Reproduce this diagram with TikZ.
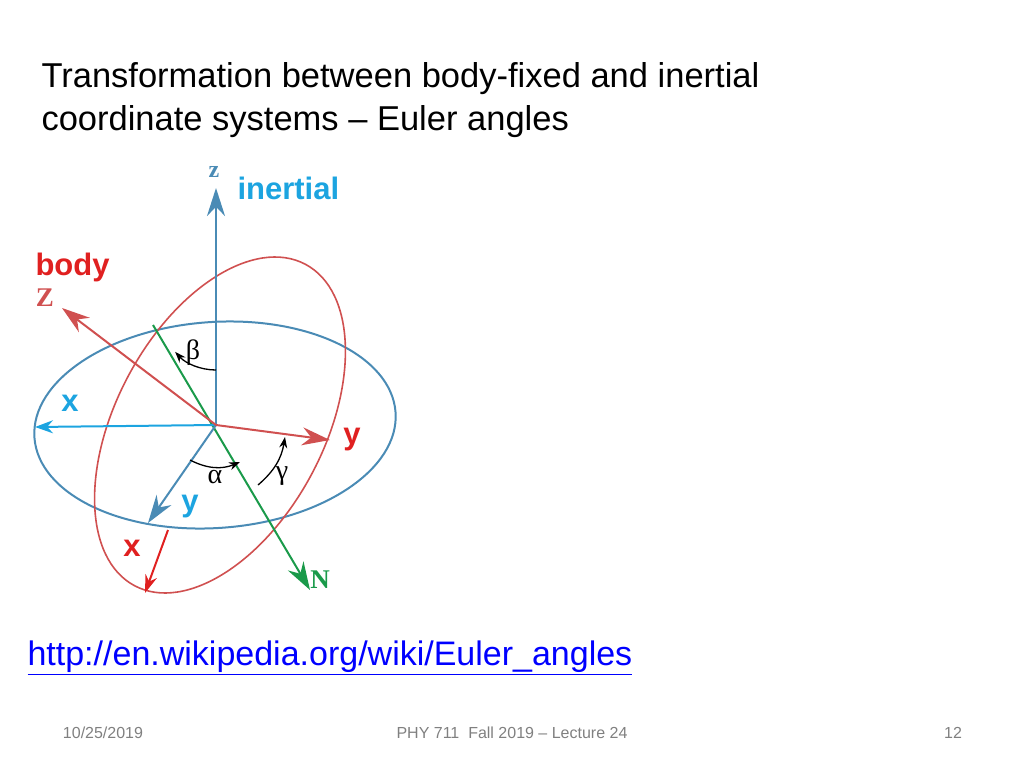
\documentclass[tikz,border=0pt]{standalone}
\usepackage{fontspec}
\setmainfont{Liberation Sans}
\newfontfamily\serifgr{Liberation Serif}
\usetikzlibrary{arrows.meta}
\definecolor{ib}{HTML}{1CA4E0}
\definecolor{eb}{HTML}{4A8BB5}
\definecolor{rr}{HTML}{E02020}
\definecolor{er}{HTML}{D05050}
\definecolor{gg}{HTML}{1A9A4A}
\tikzset{lbl/.style={font=\fontsize{31}{36}\selectfont\bfseries},
 ar/.style={-{Stealth[length=28pt,width=18pt]}, line width=2pt},
 sm/.style={-{Stealth[length=11pt,width=8pt]}, line width=1.3pt},
 gr/.style={font=\serifgr\fontsize{28}{30}\selectfont}}
\begin{document}
\begin{tikzpicture}[x=1pt,y=-1pt]
\useasboundingbox (0,0) rectangle (1024,768);
\node[anchor=west,align=left,font=\fontsize{34.5}{43}\selectfont] (t) at (38,100) {Transformation between body-fixed and inertial\\coordinate systems -- Euler angles};
\coordinate (O) at (216,425);
\draw[eb,line width=2pt,rotate around={4:(215,425)}] (215,425) ellipse [x radius=181,y radius=103];
\draw[er,line width=1.6pt,rotate around={62:(220,425)}] (220,425) ellipse [x radius=182,y radius=104];
\coordinate (Ntop) at (153,325);
\coordinate (N) at (310,590);
\draw[gg,ar] (Ntop) -- (N);
\node[gg,gr,font=\serifgr\bfseries\fontsize{27}{30}\selectfont] (Nl) at (320,580) {N};
\draw[eb,ar] (O) -- (216,188) coordinate (zi);
\node[eb,font=\serifgr\bfseries\fontsize{24}{26}\selectfont] (zl) at (214,172) {z};
\draw[ib,-{Stealth[length=18pt,width=13pt]},line width=2pt] (O) -- (35,427) coordinate (xi);
\draw[eb,ar] (O) -- (148,523) coordinate (yi);
\draw[er,ar] (O) -- (62,308) coordinate (Zb);
\draw[er,ar] (O) -- (330,440) coordinate (yb);
\coordinate (xb0) at (168,530);
\draw[rr,-{Stealth[length=18pt,width=12pt]},line width=2pt] (xb0) -- (145,593) coordinate (xb);
\node[ib,lbl,anchor=west] (in) at (234,188) {inertial};
\node[rr,lbl,anchor=west] (bo) at (32,267) {body};
\node[er,font=\serifgr\bfseries\fontsize{27}{30}\selectfont] (Zl) at (45,298) {Z};
\node[ib,lbl] (xil) at (70,403) {x};
\node[ib,lbl] (yil) at (190,507) {y};
\node[rr,lbl] (ybl) at (352,440) {y};
\node[rr,lbl] (xbl) at (132,548) {x};
\draw[black,sm] (216,370) arc[start angle=90,end angle=138,radius=55];
\node[gr] (be) at (193,353) {β};
\draw[black,sm] (190,460) to[bend right=25] (240,462);
\node[gr] (al) at (215,477) {α};
\draw[black,sm] (258,485) to[bend right=20] (285,437);
\node[gr] (ga) at (282,476) {γ};
\node[anchor=west,font=\fontsize{34}{38}\selectfont,text=blue] (lk) at (24,658) {\underline{http://en.wikipedia.org/wiki/Euler\_angles}};
\node[gray,font=\fontsize{16}{18}\selectfont] (d) at (103,733) {10/25/2019};
\node[gray,font=\fontsize{16}{18}\selectfont] (c) at (512,733) {PHY 711 \ Fall 2019 -- Lecture 24};
\node[gray,font=\fontsize{16}{18}\selectfont] (p) at (953,733) {12};
\end{tikzpicture}
\end{document}
